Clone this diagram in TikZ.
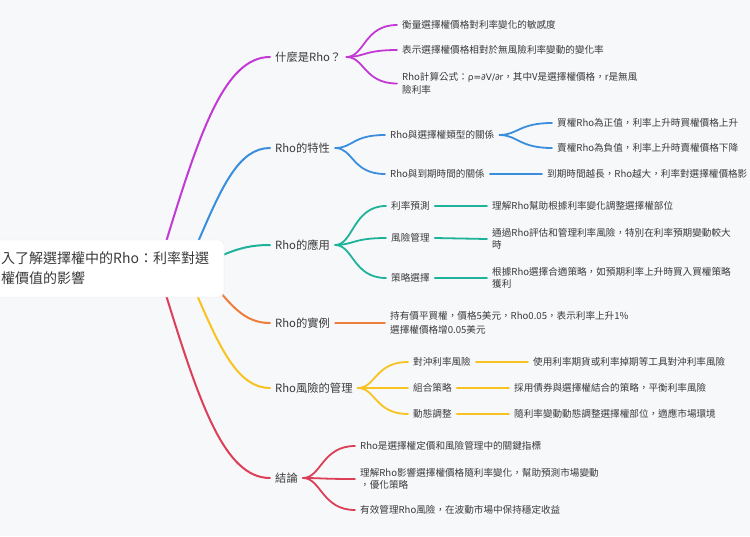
\documentclass[tikz,border=0pt]{standalone}
\usepackage{fontspec}
\setmainfont{Noto Sans CJK TC}
\newfontfamily\latinf{DejaVu Sans}
\definecolor{bgc}{HTML}{F7F8FA}
\definecolor{textc}{HTML}{3A3A3A}
\definecolor{cpur}{HTML}{C23AD3}
\definecolor{cblu}{HTML}{3A8EDD}
\definecolor{ctea}{HTML}{1FB29A}
\definecolor{cora}{HTML}{EE7E3C}
\definecolor{cyel}{HTML}{F8C320}
\definecolor{cred}{HTML}{DC3F57}
\definecolor{boxline}{HTML}{ECEDF1}
\begin{document}
\begin{tikzpicture}[x=1pt,y=-1pt,
  txt/.style={anchor=west, inner xsep=5pt, inner ysep=1pt, text=textc,
    font=\fontsize{9.6}{12.5}\selectfont, align=left},
  lvone/.style={txt, font=\fontsize{11.3}{14}\selectfont},
  rootbox/.style={anchor=west, fill=white, draw=boxline, rounded corners=6pt,
    inner xsep=15pt, minimum height=57pt, text=textc, align=left,
    font=\fontsize{14}{20}\selectfont},
  br/.style={line width=2pt, line cap=round},
  sub/.style={line width=1.8pt, line cap=round}]
\useasboundingbox[fill=bgc] (0,0) rectangle (750,536);

% start points under the root box
\coordinate (s1) at (166,242);
\coordinate (s2) at (198,242);
\coordinate (s3) at (216,258);
\coordinate (s4) at (216,287);
\coordinate (s5) at (197,295);
\coordinate (s6) at (166,295);

% level 1
\node[lvone] (a) at (270,57) {什麼是Rho？};
\node[lvone] (b) at (270,148) {Rho的特性};
\node[lvone] (c) at (270,245) {Rho的應用};
\node[lvone] (d) at (270,323) {Rho的實例};
\node[lvone] (e) at (270,388) {Rho風險的管理};
\node[lvone] (f) at (270,478) {結論};

% purple
\node[txt] (a1) at (397,25) {衡量選擇權價格對利率變化的敏感度};
\node[txt] (a2) at (397,50) {表示選擇權價格相對於無風險利率變動的變化率};
\node[txt] (a3) at (397,83.5) {Rho計算公式：{\latinf\fontsize{9}{12.5}\selectfont ρ=∂V/∂r}，其中V是選擇權價格，r是無風\\險利率};

% blue
\node[txt] (b1) at (385,135) {Rho與選擇權類型的關係};
\node[txt] (b2) at (385,174) {Rho與到期時間的關係};
\node[txt] (b11) at (552,123) {買權Rho為正值，利率上升時買權價格上升};
\node[txt] (b12) at (552,148) {賣權Rho為負值，利率上升時賣權價格下降};
\node[txt] (b21) at (542,174) {到期時間越長，Rho越大，利率對選擇權價格影};

% teal
\node[txt] (c1) at (386,206) {利率預測};
\node[txt] (c2) at (386,238) {風險管理};
\node[txt] (c3) at (386,278) {策略選擇};
\node[txt] (c11) at (487,206) {理解Rho幫助根據利率變化調整選擇權部位};
\node[txt] (c21) at (487,239) {通過Rho評估和管理利率風險，特別在利率預期變動較大\\時};
\node[txt] (c31) at (487,278) {根據Rho選擇合適策略，如預期利率上升時買入買權策略\\獲利};

% orange
\node[txt, font=\fontsize{9.6}{13.5}\selectfont] (d1) at (385,323) {持有價平買權，價格5美元，Rho0.05，表示利率上升1\%\\選擇權價格增0.05美元};

% yellow
\node[txt] (e1) at (408,362) {對沖利率風險};
\node[txt] (e2) at (408,388) {組合策略};
\node[txt] (e3) at (408,414) {動態調整};
\node[txt] (e11) at (528,362) {使用利率期貨或利率掉期等工具對沖利率風險};
\node[txt] (e21) at (509,388) {採用債券與選擇權結合的策略，平衡利率風險};
\node[txt] (e31) at (509,414) {隨利率變動動態調整選擇權部位，適應市場環境};

% red
\node[txt] (f1) at (355,446) {Rho是選擇權定價和風險管理中的關鍵指標};
\node[txt] (f2) at (355,479) {理解Rho影響選擇權價格隨利率變化，幫助預測市場變動\\，優化策略};
\node[txt] (f3) at (355,510) {有效管理Rho風險，在波動市場中保持穩定收益};

% root branches
\draw[br,cpur] (s1) .. controls (200,131) and (225,57) .. (a.west);
\draw[br,cblu] (s2) .. controls (222,186) and (239,148) .. (b.west);
\draw[br,ctea] (s3) .. controls (234,250) and (247,245) .. (c.west);
\draw[br,cora] (s4) .. controls (234,309) and (247,323) .. (d.west);
\draw[br,cyel] (s5) .. controls (221,351) and (239,388) .. (e.west);
\draw[br,cred] (s6) .. controls (200,405) and (225,478) .. (f.west);

% fans
\foreach \t in {a1,a2,a3}
  \draw[sub,cpur] (a.east) .. controls +(18,0) and +(-33,0) .. (\t.west);
\foreach \t in {b1,b2}
  \draw[sub,cblu] (b.east) .. controls +(18,0) and +(-33,0) .. (\t.west);
\foreach \t in {b11,b12}
  \draw[sub,cblu] (b1.east) .. controls +(18,0) and +(-33,0) .. (\t.west);
\draw[sub,cblu] (b2.east) -- (b21.west);
\foreach \t in {c1,c2,c3}
  \draw[sub,ctea] (c.east) .. controls +(18,0) and +(-33,0) .. (\t.west);
\draw[sub,ctea] (c1.east) -- (c11.west);
\draw[sub,ctea] (c2.east) -- (c21.west);
\draw[sub,ctea] (c3.east) -- (c31.west);
\draw[sub,cora] (d.east) -- (d1.west);
\foreach \t in {e1,e2,e3}
  \draw[sub,cyel] (e.east) .. controls +(18,0) and +(-33,0) .. (\t.west);
\draw[sub,cyel] (e1.east) -- (e11.west);
\draw[sub,cyel] (e2.east) -- (e21.west);
\draw[sub,cyel] (e3.east) -- (e31.west);
\foreach \t in {f1,f2,f3}
  \draw[sub,cred] (f.east) .. controls +(18,0) and +(-33,0) .. (\t.west);

% root
\node[rootbox] (root) at (-14,268.5) {入了解選擇權中的Rho：利率對選\\權價值的影響};
\end{tikzpicture}
\end{document}
